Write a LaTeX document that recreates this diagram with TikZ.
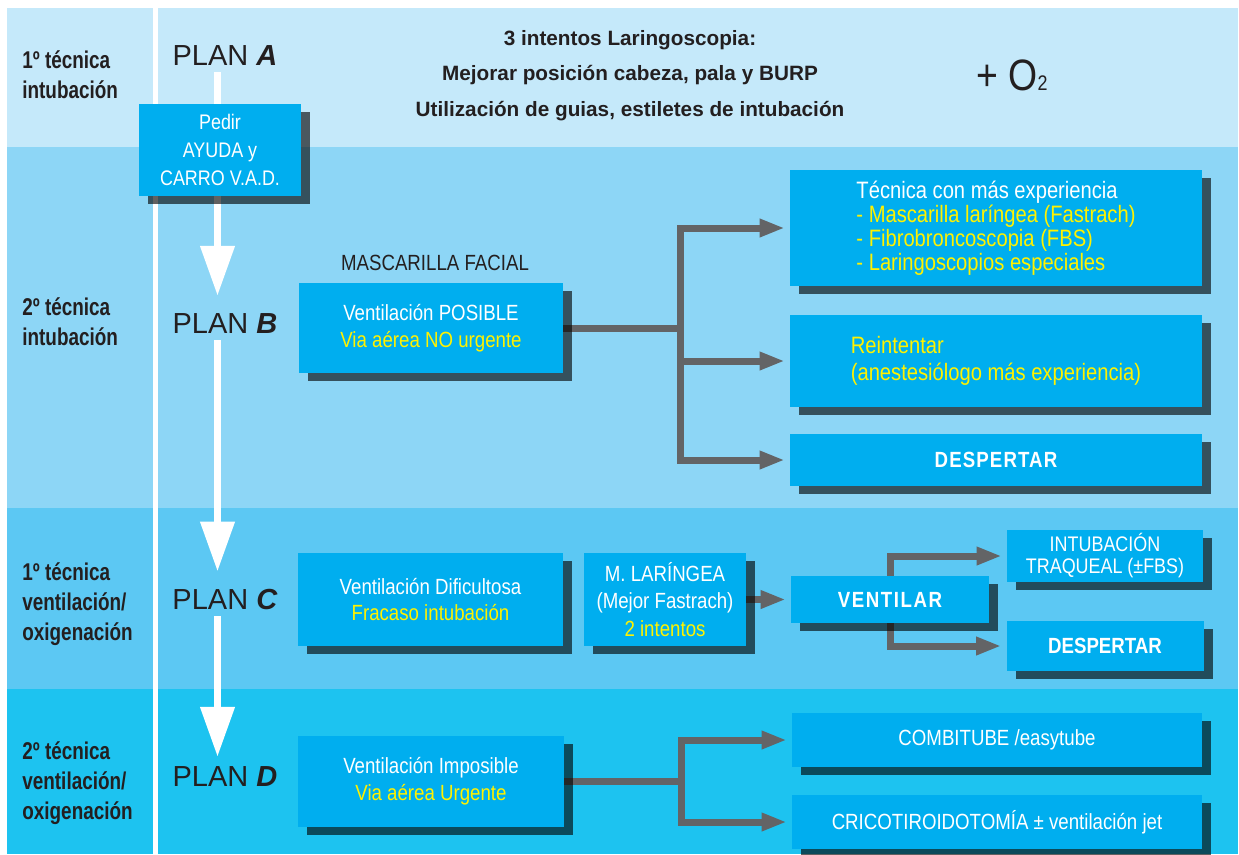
\documentclass[tikz,border=0pt]{standalone}
\usepackage{fontspec}
\setmainfont{Liberation Sans}
\newfontfamily\condfont[FakeStretch=0.85]{Liberation Sans}
\newfontfamily\labfont[FakeStretch=0.78]{Liberation Sans}
\usepackage{tikz}
\usetikzlibrary{positioning, arrows.meta, shadows}
\definecolor{bandA}{HTML}{C5E9FA}
\definecolor{bandB}{HTML}{8DD6F6}
\definecolor{bandC}{HTML}{5CC8F3}
\definecolor{bandD}{HTML}{1DC3F0}
\definecolor{boxblue}{HTML}{00AEEF}
\definecolor{txtyellow}{HTML}{FFF200}
\definecolor{conngrey}{HTML}{636466}
\definecolor{txtdark}{HTML}{231F20}
\pgfdeclarelayer{bands}
\pgfdeclarelayer{lines}
\pgfsetlayers{bands,lines,main}
\tikzstyle{vbox} = [fill=boxblue, text=white, align=center, inner sep=2pt,
  font=\condfont\fontsize{12.5}{15.3}\selectfont,
  drop shadow={shadow xshift=1.8mm, shadow yshift=-1.6mm, fill=black, opacity=0.62}]
\tikzstyle{widebox} = [vbox, minimum width=82.4mm]
\tikzstyle{lab} = [anchor=north west, inner sep=0pt, align=left, text=txtdark,
  font=\labfont\bfseries\fontsize{13.8}{17.3}\selectfont]
\tikzstyle{plan} = [text=txtdark, font=\fontsize{16.5}{18}\selectfont]
\tikzstyle{planarrow} = [line width=1.5mm, white, -{Triangle[length=10mm, width=6.6mm]}, shorten >=2.4mm]
\tikzstyle{connline} = [line width=1.4mm, conngrey]
\tikzstyle{conn} = [connline, -{Triangle[length=5mm, width=3.4mm]}, shorten >=1mm]

\begin{document}
\begin{tikzpicture}[x=0.2mm, y=-0.2mm, on grid]
  \useasboundingbox (0,0) rectangle (1239,854);
  % bands
  \begin{pgfonlayer}{bands}
    \fill[white] (0,0) rectangle (1239,854);
    \fill[bandA] (7,8) rectangle (1238,147);
    \fill[bandB] (7,147) rectangle (1238,508);
    \fill[bandC] (7,508) rectangle (1238,689);
    \fill[bandD] (7,689) rectangle (1238,854);
    \fill[white] (153,8) rectangle (158,854);
  \end{pgfonlayer}

  % left column
  \node[lab] (labA) at (22,50) {1º técnica\\intubación};
  \node[lab] (labB) at (22,297) {2º técnica\\intubación};
  \node[lab] (labC) at (22,562) {1º técnica\\ventilación/\\oxigenación};
  \node[lab] (labD) at (22,741) {2º técnica\\ventilación/\\oxigenación};

  \node[plan] (planA) at (225,56) {PLAN \textbf{\textit{A}}};
  \node[plan] (planB) at (225,324) {PLAN \textbf{\textit{B}}};
  \node[plan] (planC) at (225,600) {PLAN \textbf{\textit{C}}};
  \node[plan] (planD) at (225,777) {PLAN \textbf{\textit{D}}};
  \coordinate (spine) at (217.5,0);

  % plan A
  \node[text=txtdark, anchor=north, inner sep=0pt, align=center,
    font=\bfseries\fontsize{11.8}{20.1}\selectfont] (intentos) at (630,30)
    {3 intentos Laringoscopia:\\Mejorar posición cabeza, pala y BURP\\Utilización de guias, estiletes de intubación};
  \node[text=txtdark, font=\condfont\fontsize{25}{25}\selectfont] (oxigeno) at (1012,75)
    {+ O{\fontsize{12}{12}\selectfont 2}};
  \node[vbox, minimum width=32.4mm, minimum height=18.4mm,
    font=\condfont\fontsize{12}{15.9}\selectfont] (pedir) at (220,150) {Pedir\\AYUDA y\\CARRO V.A.D.};

  % plan B
  \node[text=txtdark, font=\condfont\fontsize{12.5}{15}\selectfont] (facial) at (435,263) {MASCARILLA FACIAL};
  \node[vbox, minimum width=52.8mm, minimum height=18mm] (posible) at (431,328)
    {Ventilación POSIBLE\\\textcolor{txtyellow}{Via aérea NO urgente}};
  \node[widebox, minimum height=23.2mm, align=left,
    font=\condfont\fontsize{13.5}{13.6}\selectfont] (tecnica) at (996,228)
    {Técnica con más experiencia\\\textcolor{txtyellow}{- Mascarilla laríngea (Fastrach)}\\
     \textcolor{txtyellow}{- Fibrobroncoscopia (FBS)}\\\textcolor{txtyellow}{- Laringoscopios especiales}};
  \node[widebox, minimum height=18.4mm, align=left,
    font=\condfont\fontsize{13.5}{15.5}\selectfont] (reintentar) [below=26.6mm of tecnica]
    {\textcolor{txtyellow}{Reintentar}\\\textcolor{txtyellow}{(anestesiólogo más experiencia)}};
  \node[widebox, minimum height=10.4mm,
    font=\condfont\bfseries\addfontfeature{LetterSpace=5}\fontsize{12.5}{15}\selectfont]
    (despertarB) [below=19.8mm of reintentar] {DESPERTAR};

  % plan C
  \node[vbox, minimum width=53mm, minimum height=18.6mm] (dificil) at (430.5,599.5)
    {Ventilación Dificultosa\\\textcolor{txtyellow}{Fracaso intubación}};
  \node[vbox, minimum width=32.4mm, minimum height=18.6mm,
    font=\condfont\fontsize{12.5}{15.5}\selectfont] (mlaringea) [right=46.9mm of dificil]
    {M. LARÍNGEA\\(Mejor Fastrach)\\\textcolor{txtyellow}{2 intentos}};
  \node[vbox, minimum width=39.6mm, minimum height=9.4mm,
    font=\condfont\bfseries\addfontfeature{LetterSpace=7}\fontsize{12.5}{15}\selectfont]
    (ventilar) [right=45mm of mlaringea] {VENTILAR};
  \node[vbox, minimum width=39.2mm, minimum height=10mm,
    font=\condfont\fontsize{12}{12.5}\selectfont] (intubacion) at (1105,556)
    {INTUBACIÓN\\TRAQUEAL (±FBS)};
  \node[vbox, minimum width=39.4mm, minimum height=10mm,
    font=\condfont\bfseries\fontsize{12.5}{15}\selectfont] (despertarC) [below=18mm of intubacion] {DESPERTAR};

  % plan D
  \node[vbox, minimum width=53.2mm, minimum height=18.2mm] (imposible) at (431,781.5)
    {Ventilación Imposible\\\textcolor{txtyellow}{Via aérea Urgente}};
  \node[widebox, minimum width=82mm, minimum height=10.8mm] (combitube) at (997,740) {COMBITUBE /easytube};
  \node[widebox, minimum width=82mm, minimum height=10.8mm] (crico) [below=16.4mm of combitube]
    {CRICOTIROIDOTOMÍA ± ventilación jet};

  % connectors
  \begin{pgfonlayer}{lines}
    \draw[planarrow] (planA.south -| spine) -- (planB.north -| spine);
    \draw[planarrow] (planB.south -| spine) -- (planC.north -| spine);
    \draw[planarrow, shorten >=0.8mm] (planC.south -| spine) -- (planD.north -| spine);

    \coordinate (colB) at (680,0);
    \coordinate (forkB) at (posible.east -| colB);
    \draw[connline] (posible.east) -- (forkB);
    \draw[conn] (forkB) |- (tecnica.west);
    \draw[conn] (forkB) |- (reintentar.west);
    \draw[conn] (forkB) |- (despertarB.west);

    \draw[conn] (mlaringea.east) -- (mlaringea.east -| ventilar.west);
    \draw[conn] (ventilar) |- (intubacion.west);
    \draw[conn] (ventilar) |- (despertarC.west);

    \coordinate (colD) at (681,0);
    \coordinate (forkD) at (imposible.east -| colD);
    \draw[connline] (imposible.east) -- (forkD);
    \draw[conn] (forkD) |- (combitube.west);
    \draw[conn] (forkD) |- (crico.west);
  \end{pgfonlayer}
\end{tikzpicture}
\end{document}
